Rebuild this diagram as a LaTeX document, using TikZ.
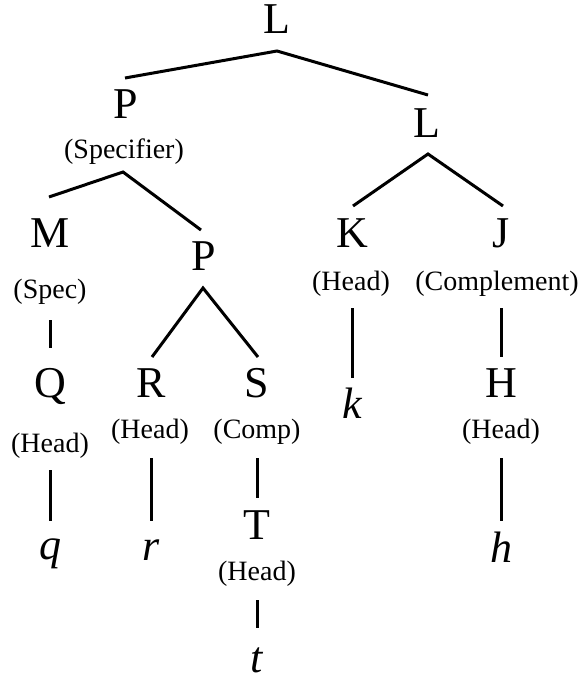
\documentclass[tikz,border=0pt]{standalone}
\usepackage{fontspec}
\setmainfont{Liberation Serif}
\usepackage{tikz}
\usetikzlibrary{calc}
\newcommand{\catsize}{\fontsize{44}{48}\selectfont}
\newcommand{\rolesize}{\fontsize{28}{32}\selectfont}

\begin{document}
\begin{tikzpicture}[x=1pt,y=-1pt,
            cat/.style={font=\catsize,inner sep=0pt,anchor=base},
            role/.style={font=\rolesize,inner sep=0pt,anchor=base},
            leaf/.style={font=\catsize\itshape,inner sep=0pt,anchor=base},
            branch/.style={line width=3pt}]
            
            \useasboundingbox (0,0) rectangle (580,682);
            
            % top of the tree
            \node[cat] (L0) at (277,34) {L};
            \node[cat] (P1) at (126,118) {P};
            \node[role] (sp) at (124,158) {(Specifier)};
            \node[cat] (L1) at (427,137) {L};
            
            % left branch
            \node[cat] (M) at (50,247) {M};
            \node[role] (spec) at (50,298) {(Spec)};
            \node[cat] (Q) at (50,397) {Q};
            \node[role] (headQ) at (50,452) {(Head)};
            \node[leaf] (q) at (50,559) {q};
            
            \node[cat] (P2) at (204,270) {P};
            \node[cat] (R) at (151,397) {R};
            \node[role] (headR) at (150,438) {(Head)};
            \node[leaf] (r) at (151,560) {r};
            
            \node[cat] (S) at (257,397) {S};
            \node[role] (compS) at (257,438) {(Comp)};
            \node[cat] (T) at (257,539) {T};
            \node[role] (headT) at (257,580) {(Head)};
            \node[leaf] (t) at (257,672) {t};
            
            % right branch
            \node[cat] (K) at (352,247) {K};
            \node[role] (headK) at (351,290) {(Head)};
            \node[leaf] (k) at (352,418) {k};
            
            \node[cat] (J) at (501,247) {J};
            \node[role] (comp) at (497,290) {(Complement)};
            \node[cat] (H) at (501,397) {H};
            \node[role] (headH) at (501,438) {(Head)};
            \node[leaf] (h) at (501,562) {h};
            
            % branches
            \draw[branch] ($(P1.base)+(-1,-40)$) -- ($(L0.base)+(0,17)$) -- ($(L1.base)+(1,-42)$);
            \draw[branch] ($(M.base)+(-1,-50)$) -- ($(sp.base)+(-1,14)$) -- ($(P2.base)+(-3,-40)$);
            \draw[branch] ($(K.base)+(1,-41)$) -- ($(L1.base)+(1,17)$) -- ($(J.base)+(2,-41)$);
            \draw[branch] ($(R.base)+(1,-40)$) -- ($(P2.base)+(-1,18)$) -- ($(S.base)+(1,-40)$);
            
            \draw[branch] ($(spec.base)+(0,22)$) -- ($(Q.base)+(0,-49)$);
            \draw[branch] ($(headQ.base)+(0,18)$) -- ($(q.base)+(0,-38)$);
            \draw[branch] ($(headR.base)+(1,20)$) -- ($(r.base)+(0,-39)$);
            \draw[branch] ($(compS.base)+(0,20)$) -- ($(T.base)+(0,-41)$);
            \draw[branch] ($(headT.base)+(0,20)$) -- ($(t.base)+(0,-44)$);
            \draw[branch] ($(headK.base)+(1,18)$) -- ($(k.base)+(0,-40)$);
            \draw[branch] ($(comp.base)+(4,18)$) -- ($(H.base)+(0,-40)$);
            \draw[branch] ($(headH.base)+(0,20)$) -- ($(h.base)+(0,-41)$);
            
\end{tikzpicture}
\end{document}
